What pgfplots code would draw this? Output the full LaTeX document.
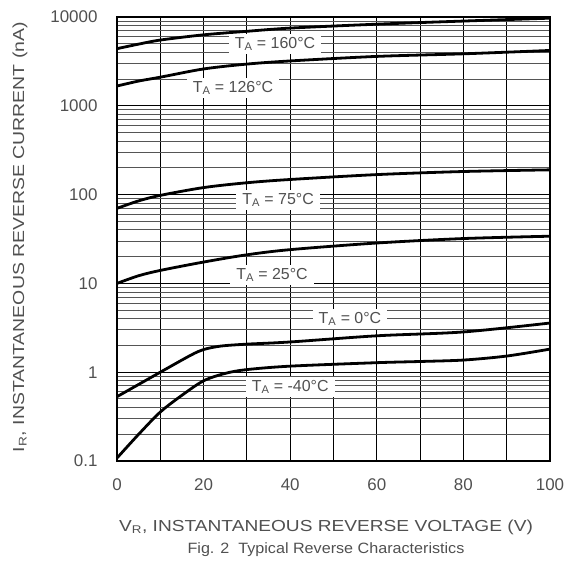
\documentclass[border=0pt]{standalone}
\usepackage{pgfplots}
\pgfplotsset{compat=1.18}
\usepackage{fontspec}
\setmainfont{Liberation Sans}
\definecolor{txt}{HTML}{505050}
\definecolor{gridg}{HTML}{555555}
\begin{document}
\begin{tikzpicture}
\useasboundingbox (-117bp,-108bp) rectangle (459bp,461bp);
\begin{axis}[
  anchor=south west, at={(0,0)},
  scale only axis, width=433bp, height=444bp,
  ymode=log, xmin=0, xmax=100, ymin=0.1, ymax=10000,
  xtick={0,20,40,60,80,100},
  minor xtick={10,30,50,70,90},
  ytick={0.1,1,10,100,1000,10000},
  yticklabels={0.1,1,10,100,1000,10000},
  /pgf/number format/assume math mode=true,
  xmajorgrids, xminorgrids, ymajorgrids, yminorgrids,
  major grid style={black, line width=1.1bp},
  minor grid style={gridg, line width=1.0bp},
  x grid style={black, line width=1.1bp},
  axis line style={black, line width=1.2bp},
  major tick length=0pt, minor tick length=0pt,
  tick label style={font=\fontsize{17}{20}\selectfont, text=txt},
  yticklabel style={xshift=-16bp},
  xticklabel style={yshift=-14bp},
  clip=false,
  curve/.style={black, line width=2.8bp, smooth, mark=none},
]
% 160 C
\addplot[curve] coordinates {(0,4400) (5,4950) (10,5500) (20,6300) (30,6900) (40,7500) (60,8300) (80,9000) (100,9700)};
% 126 C
\addplot[curve] coordinates {(0,1670) (5,1900) (10,2100) (20,2600) (30,2950) (40,3200) (60,3600) (80,3850) (100,4200)};
% 75 C
\addplot[curve] coordinates {(0,70) (5,85) (10,98) (20,120) (30,136) (40,148) (60,168) (80,182) (100,190)};
% 25 C
\addplot[curve] coordinates {(0,10) (5,12.2) (10,14) (20,17.4) (30,21) (40,24) (60,28.5) (80,32) (100,34)};
% 0 C
\addplot[curve] coordinates {(0,0.53) (10,1.0) (17,1.55) (20,1.8) (24,1.97) (30,2.07) (40,2.19) (60,2.57) (80,2.84) (100,3.58)};
% -40 C
\addplot[curve] coordinates {(0,0.108) (5,0.2) (10,0.356) (15,0.55) (20,0.8) (25,0.97) (30,1.07) (40,1.17) (60,1.28) (70,1.32) (80,1.37) (90,1.52) (100,1.82)};
\tikzset{lab/.style={fill=white, text=txt, inner xsep=6bp, inner ysep=3bp, font=\fontsize{16}{18}\selectfont}}
\node[lab] at (axis cs:36.5,4965) {T\textsubscript{A} = 160°C};
\node[lab] at (axis cs:26.8,1585) {T\textsubscript{A} = 126°C};
\node[lab] at (axis cs:37.2,87) {T\textsubscript{A} = 75°C};
\node[lab] at (axis cs:35.8,12.4) {T\textsubscript{A} = 25°C};
\node[lab] at (axis cs:53.8,3.97) {T\textsubscript{A} = 0°C};
\node[lab] at (axis cs:40,0.68) {T\textsubscript{A} = -40°C};
\end{axis}
\node[text=txt, font=\fontsize{16}{18}\selectfont] at (209bp,-66bp) {\scalebox{1.2}[1]{V\textsubscript{R}, INSTANTANEOUS REVERSE VOLTAGE (V)}};
\node[text=txt, font=\fontsize{15}{18}\selectfont] at (209bp,-89bp) {\scalebox{1.08}[1]{Fig. 2\ \ Typical Reverse Characteristics}};
\node[text=txt, rotate=90, font=\fontsize{16}{18}\selectfont] at (-97bp,224bp) {\scalebox{1.22}[1]{I\textsubscript{R}, INSTANTANEOUS REVERSE CURRENT (nA)}};
\end{tikzpicture}
\end{document}
